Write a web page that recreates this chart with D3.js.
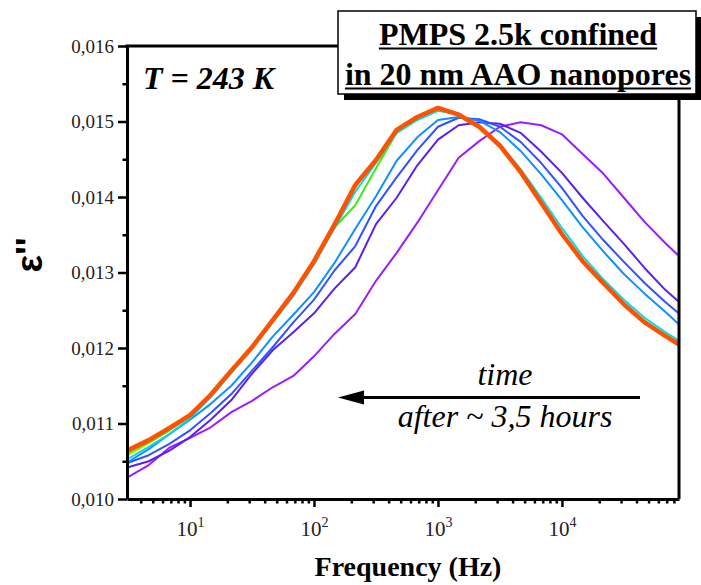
<!DOCTYPE html>
<html><head><meta charset="utf-8">
<script src="https://cdn.jsdelivr.net/npm/d3@7"></script>
<style>body{margin:0;background:#fff} svg{display:block}</style>
</head><body>
<svg id="chart" width="701" height="585"></svg>
<script>
// ---- data (frequency in Hz, dielectric loss eps'') ----
const freq = [3.162,4.642,6.813,10,14.68,21.54,31.62,46.42,68.13,100,146.8,215.4,316.2,464.2,681.3,1000,1468,2154,3162,4642,6813,10000,14678,21544,31623,46416,68129,100000];
const scanNames = ["scan 1","scan 2","scan 3","scan 4","scan 5","scan 6","scan 7","scan 8"];
const eps1 = [0.01029,0.01045,0.01068,0.01081,0.01095,0.01115,0.01130,0.01148,0.01163,0.01189,0.01219,0.01245,0.01289,0.01326,0.01366,0.01409,0.01452,0.01474,0.01493,0.01499,0.01495,0.01483,0.01457,0.01431,0.01399,0.01367,0.01339,0.01313];
const eps2 = [0.01042,0.01050,0.01064,0.01082,0.01105,0.01131,0.01166,0.01197,0.01221,0.01246,0.01279,0.01307,0.01364,0.01399,0.01442,0.01476,0.01495,0.01499,0.01497,0.01485,0.01460,0.01432,0.01399,0.01368,0.01338,0.01306,0.01277,0.01253];
const eps3 = [0.01048,0.01058,0.01073,0.01091,0.01114,0.01139,0.01170,0.01201,0.01234,0.01264,0.01303,0.01335,0.01388,0.01426,0.01462,0.01493,0.01505,0.01503,0.01493,0.01473,0.01445,0.01412,0.01375,0.01343,0.01314,0.01286,0.01261,0.01238];
const eps4 = [0.01049,0.01066,0.01086,0.01105,0.01126,0.01150,0.01181,0.01215,0.01244,0.01274,0.01313,0.01358,0.01401,0.01448,0.01479,0.01502,0.01506,0.01501,0.01486,0.01461,0.01430,0.01396,0.01360,0.01328,0.01298,0.01272,0.01248,0.01223];
const eps5 = [0.01058,0.01074,0.01091,0.01110,0.01138,0.01170,0.01200,0.01236,0.01272,0.01314,0.01363,0.01413,0.01448,0.01487,0.01505,0.01517,0.01509,0.01493,0.01468,0.01433,0.01392,0.01351,0.01315,0.01286,0.01258,0.01234,0.01216,0.01199];
const eps6 = [0.01061,0.01075,0.01091,0.01110,0.01140,0.01172,0.01203,0.01238,0.01273,0.01314,0.01360,0.01389,0.01438,0.01485,0.01503,0.01515,0.01509,0.01491,0.01466,0.01432,0.01391,0.01351,0.01315,0.01286,0.01258,0.01236,0.01217,0.01200];
const eps7 = [0.01053,0.01069,0.01086,0.01107,0.01135,0.01167,0.01199,0.01234,0.01269,0.01311,0.01359,0.01407,0.01445,0.01485,0.01502,0.01514,0.01511,0.01493,0.01470,0.01437,0.01399,0.01359,0.01322,0.01291,0.01264,0.01240,0.01221,0.01204];
const eps8 = [0.01065,0.01078,0.01094,0.01111,0.01138,0.01170,0.01201,0.01237,0.01273,0.01315,0.01364,0.01416,0.01449,0.01489,0.01506,0.01518,0.01509,0.01493,0.01468,0.01433,0.01392,0.01351,0.01315,0.01286,0.01258,0.01234,0.01216,0.01199];
const xTickValues = [10,100,1000,10000];
const xTickBase = ["10","10","10","10"];
const xTickExp = ["1","2","3","4"];
const yTickValues = [0.010,0.011,0.012,0.013,0.014,0.015,0.016];
const yTickLabels = ["0,010","0,011","0,012","0,013","0,014","0,015","0,016"];
const yMinorValues = [0.0105,0.0115,0.0125,0.0135,0.0145,0.0155];

// ---- styles ----
const colors = ["#9a1cff","#5a20f0","#3352ff","#1090ff","#ffc400","#3aee10","#00dcec","#ff5200"];
const widths = [2,2,2,2,2,2,2,4.5];

const svg = d3.select("#chart");
const L=127, R=679, T=46, B=499;
const x = d3.scaleLog().domain([3.1, 88000]).range([L,R]);
const y = d3.scaleLinear().domain([0.010,0.016]).range([B,T]);

svg.append("defs").append("clipPath").attr("id","clip")
  .append("rect").attr("x",L).attr("y",T).attr("width",R-L).attr("height",B-T);

const allEps = [eps1,eps2,eps3,eps4,eps5,eps6,eps7,eps8];
const series = scanNames.map((n,i)=>({name:n, values:allEps[i]}));
const line = d3.line().x((d,i)=>x(freq[i])).y(d=>y(d));
svg.append("g").attr("clip-path","url(#clip)")
  .selectAll("path").data(series).join("path")
  .attr("d", d=>line(d.values))
  .attr("fill","none")
  .attr("stroke",(d,i)=>colors[i])
  .attr("stroke-width",(d,i)=>widths[i])
  .attr("stroke-linejoin","round");

const serif = "Liberation Serif, Times New Roman, Times, serif";

// frame (top and right)
svg.append("line").attr("x1",L-1.5).attr("x2",R+1.5).attr("y1",T).attr("y2",T).attr("stroke","#000").attr("stroke-width",3);
svg.append("line").attr("x1",R).attr("x2",R).attr("y1",T).attr("y2",B).attr("stroke","#000").attr("stroke-width",3);

// y axis
const gy = svg.append("g").attr("transform",`translate(${L},0)`)
  .call(d3.axisLeft(y).tickValues(yTickValues).tickFormat((d,i)=>yTickLabels[i]).tickSize(9).tickSizeOuter(0).tickPadding(4));
gy.select(".domain").attr("stroke-width",3);
gy.selectAll(".tick line").attr("stroke-width",2.5);
gy.selectAll(".tick text").attr("font-family",serif).attr("font-size",19).attr("fill","#222");
const gym = svg.append("g").attr("transform",`translate(${L},0)`)
  .call(d3.axisLeft(y).tickValues(yMinorValues).tickFormat("").tickSize(4.5).tickSizeOuter(0));
gym.select(".domain").remove();
gym.selectAll(".tick line").attr("stroke-width",2.5);

// x axis
const gx = svg.append("g").attr("transform",`translate(0,${B})`)
  .call(d3.axisBottom(x).tickValues(xTickValues).tickFormat("").tickSize(8).tickSizeOuter(0));
gx.select(".domain").attr("stroke-width",3);
gx.selectAll(".tick line").attr("stroke-width",2.5);
gx.selectAll(".tick text").each(function(d,i){
  const t = d3.select(this).attr("y",37).attr("dy",null)
    .attr("font-family",serif).attr("font-size",21).attr("fill","#222");
  t.append("tspan").text(xTickBase[i]);
  t.append("tspan").attr("dy",-9).attr("font-size",14).text(xTickExp[i]);
});
const minorX = x.ticks().filter(v=>!xTickValues.includes(v) && Math.abs(Math.log10(v)%1)>1e-9);
const gxm = svg.append("g").attr("transform",`translate(0,${B})`)
  .call(d3.axisBottom(x).tickValues(minorX).tickFormat("").tickSize(4.5).tickSizeOuter(0));
gxm.select(".domain").remove();
gxm.selectAll(".tick line").attr("stroke-width",2.5);

// axis titles
svg.append("text").attr("x",408).attr("y",576).attr("text-anchor","middle")
  .attr("font-family",serif).attr("font-weight","bold").attr("font-size",28).text("Frequency (Hz)");
svg.append("text").attr("transform","translate(42,255) rotate(-90)").attr("text-anchor","middle")
  .attr("font-family","Liberation Sans, Arial, sans-serif").attr("font-weight","bold").attr("font-size",37).text("ε''");

// temperature label
svg.append("text").attr("x",143).attr("y",89)
  .attr("font-family",serif).attr("font-weight","bold").attr("font-style","italic").attr("font-size",32).text("T = 243 K");

// title box
svg.append("rect").attr("x",344).attr("y",17).attr("width",358).attr("height",83).attr("fill","#000");
svg.append("rect").attr("x",338).attr("y",11).attr("width",358).attr("height",83).attr("fill","#fff").attr("stroke","#000").attr("stroke-width",1.5);
const titleLines = ["PMPS 2.5k confined","in 20 nm AAO nanopores"];
const titleBase = [45,85];
titleLines.forEach((s,i)=>{
  const t = svg.append("text").attr("x",518).attr("y",titleBase[i]).attr("text-anchor","middle")
    .attr("font-family",serif).attr("font-weight","bold").attr("font-size",32).text(s);
  const w = t.node().getComputedTextLength();
  svg.append("line").attr("x1",518-w/2).attr("x2",518+w/2).attr("y1",titleBase[i]+3.5).attr("y2",titleBase[i]+3.5)
    .attr("stroke","#000").attr("stroke-width",2);
});

// annotation
svg.append("text").attr("x",505).attr("y",385).attr("text-anchor","middle")
  .attr("font-family",serif).attr("font-style","italic").attr("font-size",32).text("time");
svg.append("line").attr("x1",640).attr("x2",360).attr("y1",397.5).attr("y2",397.5).attr("stroke","#000").attr("stroke-width",3);
svg.append("path").attr("d","M338,397.5 L364,390.5 L364,404.5 Z").attr("fill","#000");
svg.append("text").attr("x",505).attr("y",427).attr("text-anchor","middle")
  .attr("font-family",serif).attr("font-style","italic").attr("font-size",32).text("after ~ 3,5 hours");
</script>
</body></html>
